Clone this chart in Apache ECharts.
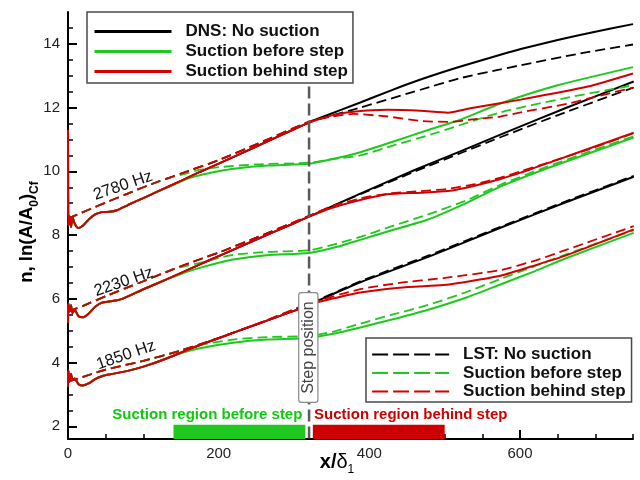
<!DOCTYPE html>
<html>
<head>
<meta charset="utf-8">
<script src="https://cdn.jsdelivr.net/npm/echarts@6/dist/echarts.min.js"></script>
<style>
  html, body { margin: 0; padding: 0; background: #fff; }
  #main { width: 640px; height: 480px; }
</style>
</head>
<body>
<div id="main"></div>
<script>
// ---- axis ticks ----
const xMajorTicks = [0, 200, 400, 600];
const xMinorTicks = [50, 100, 150, 250, 300, 350, 450, 500, 550, 650, 700, 750];
const yMajorTicks = [2, 4, 6, 8, 10, 12, 14];
const yMinorTicks = [2.5, 3, 3.5, 4.5, 5, 5.5, 6.5, 7, 7.5, 8.5, 9, 9.5, 10.5, 11, 11.5, 12.5, 13, 13.5, 14.5];

// ---- step and suction strips (x/delta_1) ----
const stepX = 320;
const stepLineTop = 12.66;
const suctionBefore = [140, 315];
const suctionBehind = [325, 500];
const stripTop = 2.05;

// ---- 2780 Hz ----
const dns2780Inlet = [[0,11.3],[0.5,8.3],[2,8.6],[4,8.25],[6,8.55],[9,8.35],[14,8.22],[20,8.3],[28,8.5],[36,8.65],[45,8.72],[55,8.73],[65,8.78],[80,8.95],[100,9.16],[120,9.38]];
const dns2780None = dns2780Inlet.concat([[150,9.7],[175,9.98],[200,10.24],[250,10.78],[300,11.32],[320,11.53],[335,11.68],[388,12.16],[430,12.55],[468,12.88],[520,13.28],[574,13.66],[601,13.84],[650,14.12],[700,14.38],[750,14.62]]);
const dns2780Before = dns2780Inlet.concat([[140,9.58],[160,9.78],[175,9.88],[200,10.0],[220,10.08],[265,10.18],[320,10.24],[350,10.38],[388,10.6],[430,10.92],[481,11.32],[521,11.62],[574,12.13],[650,12.7],[750,13.27]]);
const dns2780Behind = dns2780Inlet.concat([[150,9.7],[175,9.98],[200,10.24],[250,10.78],[300,11.32],[320,11.53],[335,11.65],[355,11.78],[379,11.87],[424,11.93],[468,11.9],[504,11.84],[534,11.98],[601,12.25],[690,12.66],[750,13.07]]);
const lst2780Inlet = [[0,8.52],[25,8.77],[50,9.02],[75,9.26],[100,9.5],[120,9.68]];
const lst2780None = lst2780Inlet.concat([[150,9.93],[200,10.35],[250,10.85],[320,11.55],[335,11.65],[388,12.0],[468,12.56],[520,12.92],[574,13.2],[601,13.33],[680,13.7],[750,13.98]]);
const lst2780Before = lst2780Inlet.concat([[140,9.83],[160,9.95],[175,10.05],[200,10.13],[250,10.22],[320,10.27],[350,10.38],[388,10.5],[430,10.8],[481,11.15],[574,11.85],[660,12.3],[750,12.7]]);
const lst2780Behind = lst2780Inlet.concat([[150,9.93],[200,10.35],[250,10.85],[320,11.56],[350,11.72],[379,11.8],[424,11.72],[468,11.58],[510,11.55],[534,11.62],[574,11.72],[601,11.85],[663,12.12],[690,12.28],[750,12.63]]);

// ---- 2230 Hz ----
const dns2230Inlet = [[0,5.25],[0.5,5.85],[2,5.6],[4,5.8],[6,5.55],[9,5.65],[14,5.45],[20,5.42],[28,5.55],[36,5.75],[45,5.88],[56,5.92],[70,5.98],[100,6.3],[130,6.6]];
const dns2230None = dns2230Inlet.concat([[175,7.08],[200,7.34],[250,7.86],[300,8.37],[320,8.58],[388,9.3],[461,10.05],[520,10.62],[574,11.15],[660,11.98],[751,12.82]]);
const dns2230Before = dns2230Inlet.concat([[150,6.78],[175,6.97],[219,7.23],[264,7.37],[320,7.44],[352,7.6],[388,7.85],[430,8.15],[477,8.48],[530,9.02],[574,9.52],[631,10.05],[690,10.55],[751,11.06]]);
const dns2230Behind = dns2230Inlet.concat([[175,7.08],[200,7.34],[250,7.86],[300,8.37],[320,8.58],[350,8.85],[388,9.1],[424,9.28],[468,9.33],[504,9.38],[540,9.55],[574,9.76],[601,9.96],[618,10.1],[690,10.7],[751,11.21]]);
const lst2230Inlet = [[0,5.6],[20,5.78],[50,6.08],[75,6.32],[100,6.55],[140,6.93]];
const lst2230None = lst2230Inlet.concat([[175,7.24],[200,7.45],[250,7.92],[320,8.6],[388,9.28],[461,10.0],[520,10.56],[574,11.07],[660,11.85],[751,12.63]]);
const lst2230Before = lst2230Inlet.concat([[160,7.05],[175,7.13],[219,7.38],[264,7.47],[320,7.52],[352,7.7],[388,7.94],[430,8.28],[477,8.64],[530,9.1],[574,9.58],[631,10.1],[690,10.6],[751,11.1]]);
const lst2230Behind = lst2230Inlet.concat([[175,7.24],[200,7.45],[250,7.92],[320,8.6],[350,8.9],[388,9.15],[424,9.3],[468,9.38],[504,9.45],[540,9.6],[574,9.8],[601,10.0],[690,10.68],[751,11.2]]);

// ---- 1850 Hz ----
const dns1850Inlet = [[0,3.25],[0.5,3.75],[2,3.4],[4,3.65],[6,3.45],[9,3.5],[14,3.32],[20,3.28],[28,3.35],[36,3.48],[45,3.57],[56,3.63],[78,3.73],[100,3.87],[130,4.12]];
const dns1850None = dns1850Inlet.concat([[175,4.55],[219,4.93],[260,5.28],[300,5.62],[320,5.82],[388,6.52],[480,7.33],[574,8.23],[660,9.02],[751,9.83]]);
const dns1850Before = dns1850Inlet.concat([[150,4.3],[175,4.45],[219,4.62],[264,4.72],[320,4.77],[352,4.9],[388,5.1],[430,5.35],[477,5.65],[530,6.05],[574,6.45],[620,6.87],[662,7.28],[751,8.07]]);
const dns1850Behind = dns1850Inlet.concat([[175,4.55],[219,4.93],[260,5.28],[300,5.62],[320,5.82],[350,6.0],[388,6.2],[440,6.35],[498,6.43],[521,6.5],[574,6.72],[620,7.05],[663,7.38],[751,8.18]]);
const lst1850Inlet = [[0,3.4],[20,3.55],[50,3.78],[100,4.05],[150,4.38]];
const lst1850None = lst1850Inlet.concat([[200,4.77],[250,5.2],[320,5.84],[388,6.55],[480,7.37],[574,8.26],[660,9.05],[751,9.86]]);
const lst1850Before = lst1850Inlet.concat([[175,4.55],[219,4.72],[264,4.8],[320,4.83],[352,4.97],[388,5.22],[430,5.5],[477,5.8],[530,6.22],[574,6.62],[662,7.4],[751,8.15]]);
const lst1850Behind = lst1850Inlet.concat([[200,4.77],[250,5.2],[320,5.85],[388,6.3],[440,6.5],[498,6.65],[574,6.9],[620,7.2],[663,7.55],[751,8.28]]);

// ---- text annotations: [text, x, y] in data units ----
const freqLabels = [['2780 Hz', 73, 9.55], ['2230 Hz', 74, 6.53], ['1850 Hz', 77, 4.23]];
const regionLabels = [['Suction region before step', 185, 2.35], ['Suction region behind step', 455, 2.35]];

const FONT = '"Liberation Sans", Arial, sans-serif';
const BLACK = '#000000', GREEN = '#1ec81e', RED = '#d20000';

const dashPattern = [10, 5];

function curve(name, data, color, dashed, z) {
  return {
    type: 'line', name, data, symbol: 'none', showSymbol: false,
    smooth: 0.2, z,
    lineStyle: { color, width: dashed ? 1.8 : 2, type: dashed ? dashPattern : 'solid' },
    itemStyle: { color },
    emphasis: { disabled: true }, silent: true, animation: false
  };
}

const series = [
  curve('DNS: No suction', dns2780None, BLACK, false, 2),
  curve('DNS: No suction', dns2230None, BLACK, false, 2),
  curve('DNS: No suction', dns1850None, BLACK, false, 2),
  curve('LST: No suction', lst2780None, BLACK, true, 2),
  curve('LST: No suction', lst2230None, BLACK, true, 2),
  curve('LST: No suction', lst1850None, BLACK, true, 2),
  curve('DNS: Suction before step', dns2780Before, GREEN, false, 3),
  curve('DNS: Suction before step', dns2230Before, GREEN, false, 3),
  curve('DNS: Suction before step', dns1850Before, GREEN, false, 3),
  curve('LST: Suction before step', lst2780Before, GREEN, true, 3),
  curve('LST: Suction before step', lst2230Before, GREEN, true, 3),
  curve('LST: Suction before step', lst1850Before, GREEN, true, 3),
  curve('DNS: Suction behind step', dns2780Behind, RED, false, 4),
  curve('DNS: Suction behind step', dns2230Behind, RED, false, 4),
  curve('DNS: Suction behind step', dns1850Behind, RED, false, 4),
  curve('LST: Suction behind step', lst2780Behind, RED, true, 4),
  curve('LST: Suction behind step', lst2230Behind, RED, true, 4),
  curve('LST: Suction behind step', lst1850Behind, RED, true, 4),
  {
    // step location and suction strips
    type: 'line', name: 'step', data: [[stepX, stepLineTop], [stepX, 1.6]],
    symbol: 'none', z: 5, silent: true, animation: false,
    lineStyle: { color: '#5a5a5a', width: 2.5, type: [12, 5] },
    markArea: {
      silent: true,
      data: [
        [{ coord: [suctionBefore[0], 1.6], itemStyle: { color: GREEN } }, { coord: [suctionBefore[1], stripTop] }],
        [{ coord: [suctionBehind[0], 1.6], itemStyle: { color: '#cc0000' } }, { coord: [suctionBehind[1], stripTop] }]
      ]
    }
  }
];

function legendBox(names, left, top, prefix, keep, padding, gap, lineType) {
  return {
    data: names, orient: 'vertical', left, top, selectedMode: false,
    itemWidth: 77, itemHeight: 14, itemGap: gap, padding,
    backgroundColor: '#fff', borderColor: '#4a4a4a', borderWidth: 1.5,
    textStyle: { fontFamily: FONT, fontSize: 17, fontWeight: 'bold', color: '#111', lineHeight: 17, padding: [0, 0, 0, 9] },
    itemStyle: { opacity: 0, borderWidth: 0 },
    lineStyle: { width: lineType === 'solid' ? 3 : 2.2, type: lineType },
    formatter: n => (n === keep ? n : n.replace(prefix, ''))
  };
}

const option = {
  animation: false,
  backgroundColor: '#fff',
  grid: { left: 68, right: 7, top: 12, bottom: 41, containLabel: false },
  legend: [
    legendBox(['DNS: No suction', 'DNS: Suction before step', 'DNS: Suction behind step'], 87, 12, 'DNS: ', 'DNS: No suction', [11, 5, 3, 6], 3, 'solid'),
    legendBox(['LST: No suction', 'LST: Suction before step', 'LST: Suction behind step'], 366, 338, 'LST: ', 'LST: No suction', [8, 6, 2, 5], 1.5, [16, 5])
  ],
  xAxis: [
    {
      type: 'value', min: 0, max: 750,
      axisLine: { show: true, lineStyle: { color: '#000', width: 2 } },
      axisTick: { show: true, inside: true, length: 9, customValues: xMajorTicks, lineStyle: { color: '#000', width: 2 } },
      axisLabel: { customValues: xMajorTicks, fontFamily: FONT, fontSize: 15, color: '#222', margin: 7 },
      splitLine: { show: false }
    },
    {
      type: 'value', min: 0, max: 750, position: 'bottom',
      axisLine: { show: false },
      axisTick: { show: true, inside: true, length: 5, customValues: xMinorTicks, lineStyle: { color: '#000', width: 1.5 } },
      axisLabel: { show: false }, splitLine: { show: false }
    }
  ],
  yAxis: [
    {
      type: 'value', min: 1.6, max: 15,
      axisLine: { show: true, lineStyle: { color: '#000', width: 2 } },
      axisTick: { show: true, inside: true, length: 9, customValues: yMajorTicks, lineStyle: { color: '#000', width: 2 } },
      axisLabel: { customValues: yMajorTicks, fontFamily: FONT, fontSize: 15, color: '#222', margin: 8 },
      splitLine: { show: false }
    },
    {
      type: 'value', min: 1.6, max: 15, position: 'left',
      axisLine: { show: false },
      axisTick: { show: true, inside: true, length: 5, customValues: yMinorTicks, lineStyle: { color: '#000', width: 1.5 } },
      axisLabel: { show: false }, splitLine: { show: false }
    }
  ],
  series
};

const chart = echarts.init(document.getElementById('main'));
chart.setOption(option);

const toPx = (x, y) => chart.convertToPixel({ xAxisIndex: 0, yAxisIndex: 0 }, [x, y]);

const graphics = [];
freqLabels.forEach(([t, x, y]) => {
  const p = toPx(x, y);
  graphics.push({
    type: 'text', x: p[0], y: p[1], rotation: 19 * Math.PI / 180, z: 10,
    style: { text: t, font: '16.5px ' + FONT, fill: '#111', align: 'center', verticalAlign: 'middle' }
  });
});
const sp = toPx(stepX - 1, 4.47);
graphics.push({
  type: 'text', x: sp[0], y: sp[1], rotation: Math.PI / 2, z: 10,
  style: {
    text: 'Step position', font: '16px ' + FONT, fill: '#444', align: 'center', verticalAlign: 'middle',
    backgroundColor: '#fff', borderColor: '#8a8a8a', borderWidth: 1.2, borderRadius: 2, padding: [1, 8, 1, 8]
  }
});
regionLabels.forEach(([t, x, y], i) => {
  const p = toPx(x, y);
  graphics.push({
    type: 'text', x: p[0], y: p[1], z: 10,
    style: { text: t, font: 'bold 15px ' + FONT, fill: i === 0 ? '#11c811' : '#d00000', align: 'center', verticalAlign: 'middle' }
  });
});
// axis titles
graphics.push({
  type: 'text', x: 27, y: 232, rotation: Math.PI / 2, z: 10,
  style: {
    text: '{m|n, ln(A/A}{s|0}{m|)}{s|Cf}', align: 'center', verticalAlign: 'middle',
    rich: {
      m: { fontFamily: FONT, fontSize: 18.5, fontWeight: 'bold', fill: '#000', lineHeight: 22, verticalAlign: 'middle' },
      s: { fontFamily: FONT, fontSize: 12, fontWeight: 'bold', fill: '#000', lineHeight: 12, padding: [13, 0, 0, 0], verticalAlign: 'top' }
    }
  }
});
graphics.push({
  type: 'text', x: 337, y: 462, z: 10,
  style: {
    text: '{b|x/}{d|δ}{s|1}', align: 'center', verticalAlign: 'middle',
    rich: {
      b: { fontFamily: FONT, fontSize: 20, fontWeight: 'bold', fill: '#000', lineHeight: 22, verticalAlign: 'middle' },
      d: { fontFamily: FONT, fontSize: 20, fill: '#000', lineHeight: 22, verticalAlign: 'middle' },
      s: { fontFamily: FONT, fontSize: 12, fill: '#000', lineHeight: 12, padding: [13, 0, 0, 0], verticalAlign: 'top' }
    }
  }
});
chart.setOption({ graphic: graphics });
</script>
</body>
</html>
